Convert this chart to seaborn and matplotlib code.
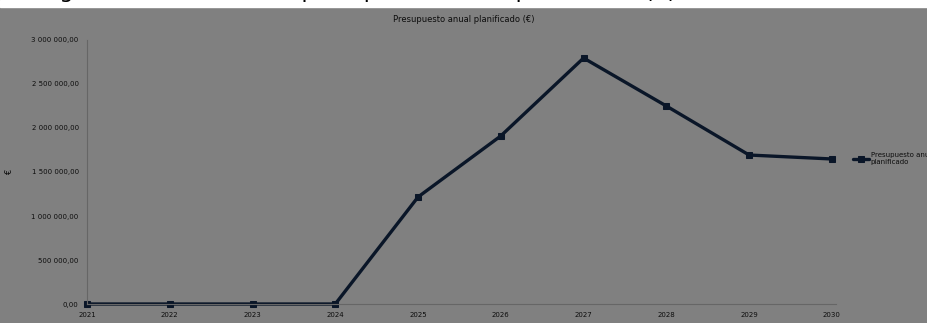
import matplotlib
matplotlib.use("Agg")
import matplotlib.pyplot as plt
import seaborn as sns
import pandas as pd

# ------ Data ------
years = [2021, 2022, 2023, 2024, 2025, 2026, 2027, 2028, 2029, 2030]
budget = [0, 0, 0, 0, 1216000, 1910000, 2795000, 2250000, 1693000, 1648000]
yticks = [0, 500000, 1000000, 1500000, 2000000, 2500000, 3000000]
ytick_labels = ["0,00", "500 000,00", "1 000 000,00", "1 500 000,00",
                "2 000 000,00", "2 500 000,00", "3 000 000,00"]
series_name = "Presupuesto anual\nplanificado"
title = "Presupuesto anual planificado (€)"

df = pd.DataFrame({"year": years, "budget": budget})

BG = "#808080"
LINE = "#0a1628"
TXT = "#0d0d0d"

sns.set_theme(style="white")
plt.rcParams["font.family"] = ["DejaVu Sans"]

fig = plt.figure(figsize=(9.28, 3.23), dpi=100, facecolor=BG)
ax = fig.add_axes([87 / 928, 1 - 304 / 323, (836 - 87) / 928, (304 - 40) / 323])
ax.set_facecolor(BG)

sns.lineplot(data=df, x="year", y="budget", ax=ax, color=LINE, linewidth=2.4,
             marker="s", markersize=5, markeredgecolor=LINE,
             label=series_name, clip_on=False)

ax.set_xlim(2021, 2030.05)
ax.set_ylim(0, 3000000)
ax.set_xticks(years)
ax.set_xticklabels([str(y) for y in years], fontsize=5, color=TXT)
ax.set_yticks(yticks)
ax.set_yticklabels(ytick_labels, fontsize=5, color=TXT)
ax.set_xlabel("")
ax.set_ylabel("€", fontsize=6, color=TXT)
ax.yaxis.set_label_coords((14 - 87) / 749, 0.5)

for side in ["top", "right"]:
    ax.spines[side].set_visible(False)
for side in ["left", "bottom"]:
    ax.spines[side].set_color("#666666")
    ax.spines[side].set_linewidth(0.8)
ax.tick_params(axis="both", length=3, width=0.6, color="#666666", pad=3)

fig.text(0.5, 1 - 20 / 323, title, ha="center", va="center",
         fontsize=6, color=TXT)

# ------ Legend on the right, cut by the edge as in the source ------
ax.legend(loc="center left", bbox_to_anchor=(1.015, 0.55), frameon=False,
          fontsize=5, handlelength=2.2, handletextpad=0.3, labelcolor=TXT)

# white strip at top with the tail of the surrounding document text
fig.patches.append(plt.Rectangle((0, 1 - 7 / 323), 1, 7 / 323,
                                 transform=fig.transFigure, color="white",
                                 zorder=0))
fig.text(0.045, 1 + 2 / 323, "Figura 4. Evolución del presupuesto anual planificado (€)",
         ha="left", va="baseline", fontsize=16, color="black")

fig.savefig("out.png", dpi=100, facecolor=BG)
